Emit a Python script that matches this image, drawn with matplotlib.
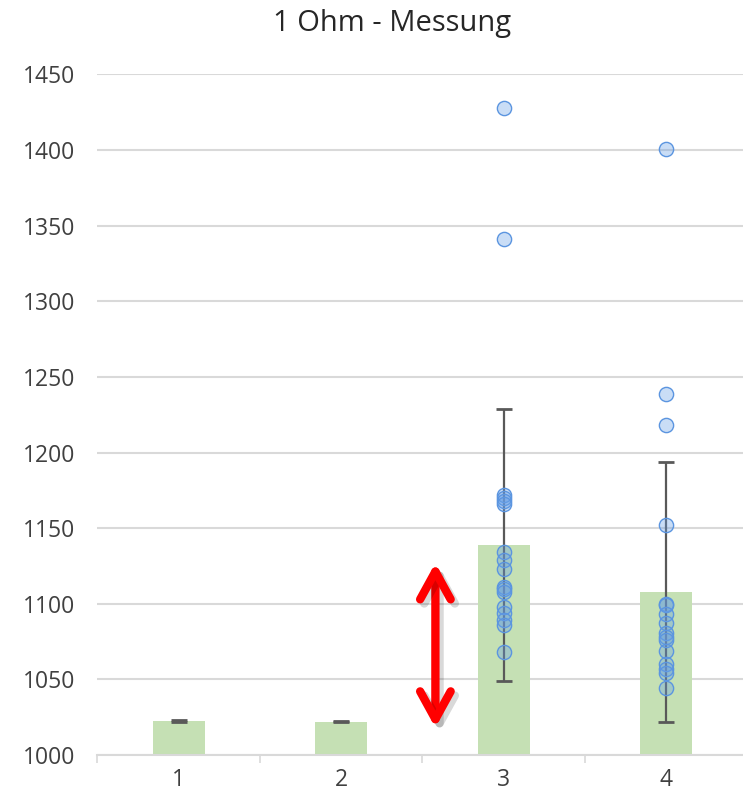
import numpy as np
import matplotlib
matplotlib.use('Agg')
import matplotlib.pyplot as plt
import matplotlib.patheffects as pe

plt.rcParams['font.family'] = ['Open Sans', 'DejaVu Sans']

# Data
categories = ['1', '2', '3', '4']
bar_means = [1022.5, 1022, 1139, 1108]
bar_errors = [0.5, 0.4, 90, 86]

points_3 = [1428, 1341, 1172, 1170, 1168, 1166, 1134, 1129, 1123,
            1111, 1110, 1108, 1098, 1094, 1089, 1086, 1068]
points_4 = [1401, 1239, 1218, 1152, 1100, 1099, 1093, 1087, 1081,
            1078, 1076, 1069, 1060, 1057, 1054, 1044]
scatter_groups = {3: points_3, 4: points_4}

arrow_x = 2.58
arrow_range = (1018, 1127)

fig = plt.figure(figsize=(7.43, 7.96), dpi=100)
ax = fig.add_axes([0.131, 0.0515, 0.875, 0.855])

x = np.arange(1, len(categories) + 1)
ax.bar(x, bar_means, width=0.32, color='#c5e0b4', zorder=2)
ax.errorbar(x, bar_means, yerr=bar_errors, fmt='none', ecolor='#595959',
            elinewidth=1.6, capsize=6, capthick=2, zorder=3)

for cat, vals in scatter_groups.items():
    ax.scatter([cat] * len(vals), vals, s=105, facecolor=(0.40, 0.62, 0.90, 0.35),
               edgecolor='#5b95e0', linewidth=1.0, zorder=4)

# red double arrow with a soft drop shadow
ax.annotate('', xy=(arrow_x, arrow_range[0]), xytext=(arrow_x, arrow_range[1]),
            arrowprops=dict(arrowstyle='<->,head_length=1.0,head_width=0.55',
                            mutation_scale=20,
                            color='#ff0000', lw=6, capstyle='round',
                            joinstyle='round', shrinkA=0, shrinkB=0,
                            path_effects=[pe.SimpleLineShadow(offset=(3, -3), alpha=0.15,
                                                              shadow_color='black'),
                                          pe.Normal()]),
            zorder=5)

ax.set_xlim(0.5, 4.5)
ax.set_ylim(1000, 1450)
ax.set_yticks(np.arange(1000, 1451, 50))
ax.yaxis.grid(True, color='#d9d9d9', linewidth=1.5)
ax.set_axisbelow(True)

ax.set_xticks(x)
ax.set_xticklabels(categories)
ax.set_xticks(np.arange(0.5, 4.6, 1), minor=True)
ax.tick_params(axis='x', which='major', length=0, labelsize=16.5, pad=9, colors='#404040')
ax.tick_params(axis='x', which='minor', length=6, width=1.2, color='#d9d9d9')
ax.tick_params(axis='y', length=0, labelsize=16.5, pad=16, colors='#404040')

for side in ['top', 'right', 'left']:
    ax.spines[side].set_visible(False)
ax.spines['bottom'].set_color('#d9d9d9')
ax.spines['bottom'].set_linewidth(1.5)

fig.text(0.528, 0.970, '1 Ohm - Messung', ha='center', va='center',
         fontsize=21, color='#262626')

fig.savefig('out.png', dpi=100)
